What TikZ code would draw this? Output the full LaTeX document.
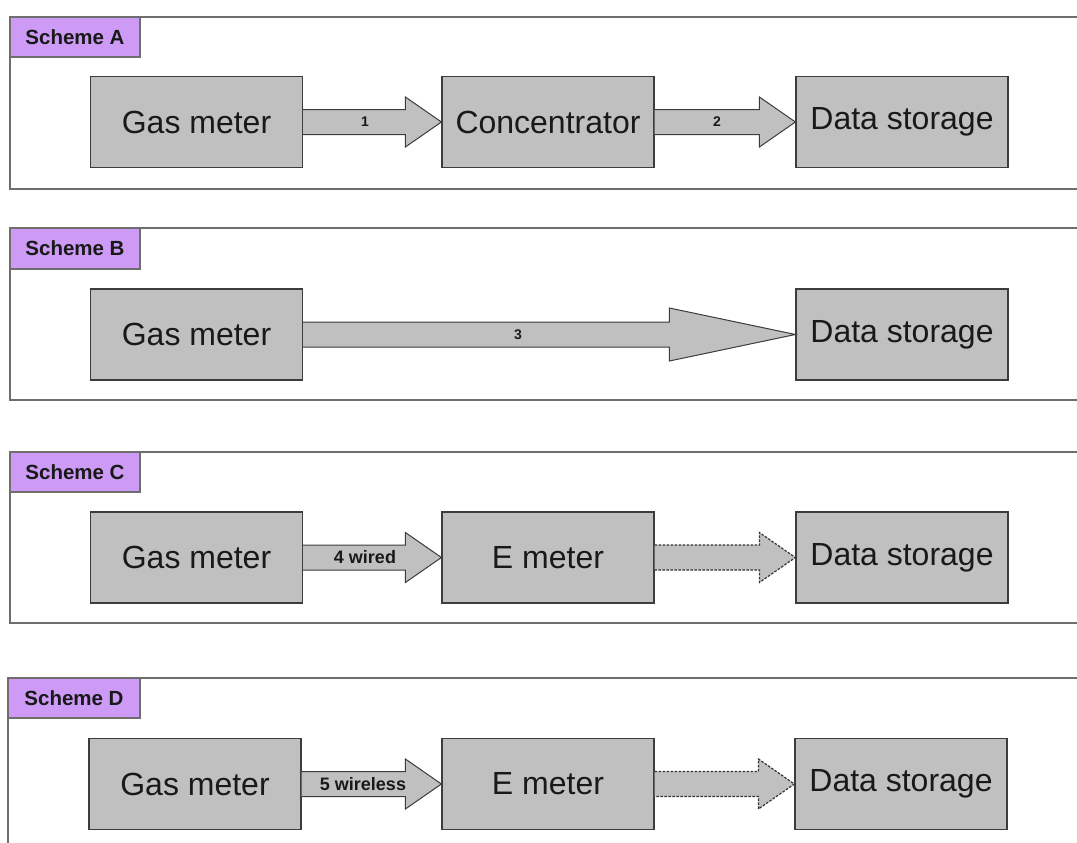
\documentclass[tikz,border=0pt]{standalone}
\usepackage{fontspec}
\setmainfont{Liberation Sans}
\usetikzlibrary{calc}
\definecolor{framegray}{RGB}{110,110,110}
\definecolor{boxborder}{RGB}{60,60,60}
\definecolor{boxfill}{RGB}{192,192,192}
\definecolor{schemepurple}{RGB}{205,155,245}
\tikzset{
  frame/.style={draw=framegray, line width=1.6pt},
  schemelabel/.style={draw=framegray, line width=1.4pt, fill=schemepurple},
  schemetext/.style={font=\bfseries\fontsize{20.5}{20.5}\selectfont, text=black!90},
  blockbox/.style={draw=boxborder, line width=1.2pt, fill=boxfill,
    minimum width=212pt, minimum height=91pt, inner sep=0pt,
    font=\fontsize{32}{32}\selectfont, text=black!90},
  arrowfill/.style={fill=boxfill},
  arrowline/.style={draw=boxborder, line width=1pt, line join=miter},
  arrowdash/.style={draw=black!80, line width=1.2pt, dash pattern=on 2.5pt off 1.5pt},
  numlabel/.style={font=\bfseries\fontsize{14}{14}\selectfont, text=black!90},
  wordlabel/.style={font=\bfseries\fontsize{18}{18}\selectfont, text=black!90}
}
% #1 from node, #2 to node, #3 head length, #4 head half width, #5 line style
\newcommand\fatarrow[5]{%
  \fill[arrowfill] ($(#1.east)+(0,-12.5)$) -- ($(#2.west)+(-#3,-12.5)$) -- ($(#2.west)+(-#3,-#4)$) -- (#2.west) -- ($(#2.west)+(-#3,#4)$) -- ($(#2.west)+(-#3,12.5)$) -- ($(#1.east)+(0,12.5)$) -- cycle;
  \draw[#5] ($(#1.east)+(0,-12.5)$) -- ($(#2.west)+(-#3,-12.5)$) -- ($(#2.west)+(-#3,-#4)$) -- (#2.west) -- ($(#2.west)+(-#3,#4)$) -- ($(#2.west)+(-#3,12.5)$) -- ($(#1.east)+(0,12.5)$);}
\begin{document}
\begin{tikzpicture}[x=1pt,y=-1pt]
\useasboundingbox (0,0) rectangle (1077,843);
\clip (0,0) rectangle (1077,843);
\fill[white] (0,0) rectangle (1077,843);

% ---------- Scheme A ----------
\draw[frame] (10,17) rectangle (1100,189);
\draw[schemelabel] (10,17) rectangle (140,57);
\node[schemetext] (la) at (75,37) {Scheme A};
\node[blockbox] (ga) at (196.5,122) {Gas meter};
\node[blockbox] (ca) at (548,122) {Concentrator};
\node[blockbox] (da) at (902,122) {Data storage};
\fatarrow{ga}{ca}{36}{25}{arrowline}
\fatarrow{ca}{da}{36}{25}{arrowline}
\node[numlabel] (n1) at (365,122) {1};
\node[numlabel] (n2) at (717,122) {2};

% ---------- Scheme B ----------
\draw[frame] (10,228) rectangle (1100,400);
\draw[schemelabel] (10,228) rectangle (140,269);
\node[schemetext] (lb) at (75,248.5) {Scheme B};
\node[blockbox] (gb) at (196.5,334.5) {Gas meter};
\node[blockbox] (db) at (902,334.5) {Data storage};
\fatarrow{gb}{db}{126}{26.5}{arrowline}
\node[numlabel] (n3) at (518,334.5) {3};

% ---------- Scheme C ----------
\draw[frame] (10,452) rectangle (1100,623);
\draw[schemelabel] (10,452) rectangle (140,492);
\node[schemetext] (lc) at (75,472) {Scheme C};
\node[blockbox] (gc) at (196.5,557.5) {Gas meter};
\node[blockbox] (ec) at (548,557.5) {E meter};
\node[blockbox] (dc) at (902,557.5) {Data storage};
\fatarrow{gc}{ec}{36}{25}{arrowline}
\fatarrow{ec}{dc}{36}{25}{arrowdash}
\node[wordlabel] (w4) at (365,557.5) {4 wired};

% ---------- Scheme D ----------
\draw[frame] (8,678) rectangle (1100,900);
\draw[schemelabel] (8,678) rectangle (140,718);
\node[schemetext] (ld) at (74,698) {Scheme D};
\node[blockbox] (gd) at (195,784) {Gas meter};
\node[blockbox] (ed) at (548,784) {E meter};
\node[blockbox] (dd) at (901,784) {Data storage};
\fatarrow{gd}{ed}{36}{25}{arrowline}
\fatarrow{ed}{dd}{36}{25}{arrowdash}
\node[wordlabel] (w5) at (363,784) {5 wireless};
\end{tikzpicture}
\end{document}
